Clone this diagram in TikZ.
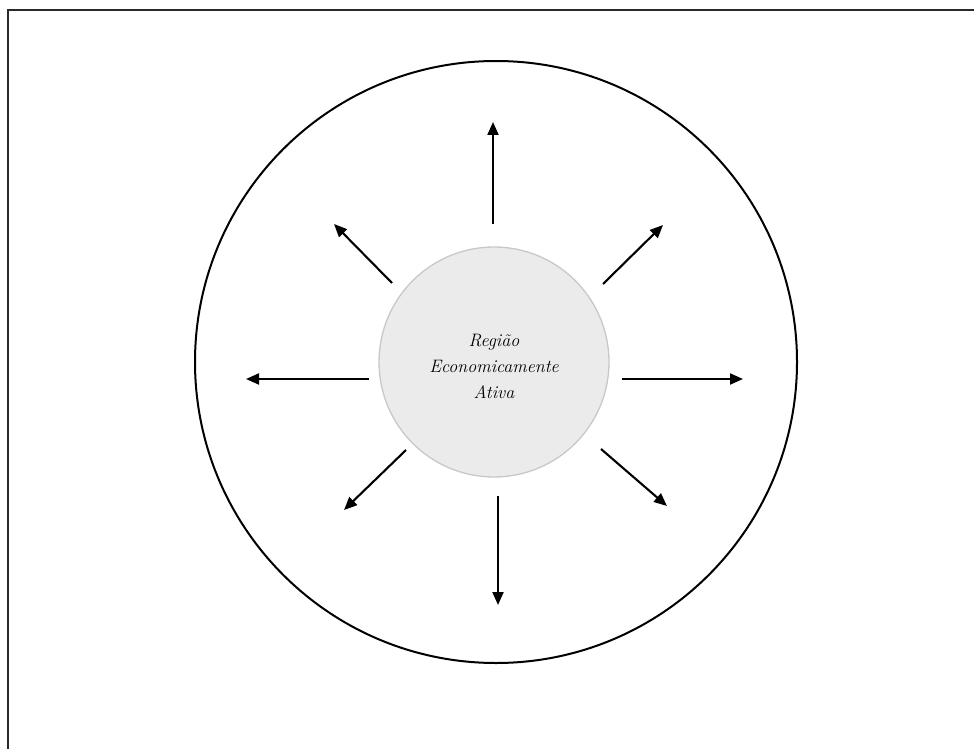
\documentclass[tikz,border=0pt]{standalone}
\usepackage{fontspec}
\usetikzlibrary{arrows.meta}
\definecolor{innerfill}{HTML}{EBEBEB}
\definecolor{innerdraw}{HTML}{C8C8C8}
\definecolor{framecol}{HTML}{2A2A2A}
\tikzset{
  flow/.style={line width=2.1pt, -{Triangle[length=13pt,width=11pt]}},
  core/.style={circle, fill=innerfill, draw=innerdraw, line width=1.3pt, minimum size=230pt, inner sep=0pt},
  coretext/.style={align=center, text=black, font=\fontsize{18}{26}\selectfont\itshape},
}
\begin{document}
\begin{tikzpicture}[x=1pt,y=-1pt]
\clip (0,0) rectangle (974,749);
\draw[framecol, line width=2.6pt] (8,770) -- (8,10) -- (990,10);
\node[draw, circle, line width=2pt, minimum size=602pt, inner sep=0pt] (outer) at (496,362) {};
\node[core] (center) at (494,362) {};
\node[coretext] (label) at (494,366) {Região\\Economicamente\\Ativa};
\coordinate (nT) at (493,224); \coordinate (nH) at (493,122);
\coordinate (sT) at (498,496); \coordinate (sH) at (498,605);
\coordinate (wT) at (369,379); \coordinate (wH) at (246,379);
\coordinate (eT) at (622,379); \coordinate (eH) at (743,379);
\coordinate (neT) at (603,284); \coordinate (neH) at (663,225);
\coordinate (nwT) at (392,283); \coordinate (nwH) at (334,224);
\coordinate (swT) at (406,450); \coordinate (swH) at (344,510);
\coordinate (seT) at (601,449); \coordinate (seH) at (667,506);
\foreach \d in {n,s,w,e,ne,nw,sw,se}{
  \draw[flow] (\d T) -- (\d H);
}
\end{tikzpicture}
\end{document}
